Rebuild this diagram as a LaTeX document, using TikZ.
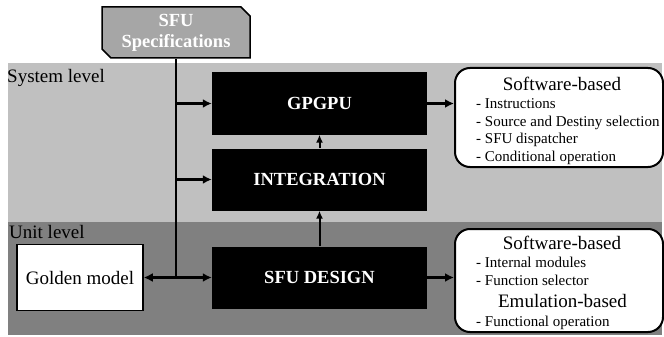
\documentclass[tikz,border=0pt]{standalone}
\usepackage{fontspec}
\setmainfont{LiberationSerif}[Extension=.ttf, UprightFont=*-Regular, BoldFont=*-Bold]
\usetikzlibrary{arrows.meta,shapes.misc}
\definecolor{syscol}{RGB}{192,192,192}
\definecolor{unitcol}{RGB}{128,128,128}
\definecolor{speccol}{RGB}{166,166,166}
\tikzset{
  blk/.style={fill=black, text=white, inner sep=0pt, minimum width=215pt, minimum height=62pt, font=\fontsize{18.5}{20}\selectfont\bfseries},
  spec/.style={chamfered rectangle, chamfered rectangle corners={north east,south west}, chamfered rectangle xsep=6pt, draw, line width=1.5pt, fill=speccol, text=white, inner sep=0pt, minimum width=148pt, minimum height=51pt, align=center, font=\fontsize{18.5}{21}\selectfont\bfseries},
  gold/.style={draw, line width=1.5pt, fill=white, inner sep=0pt, minimum width=126pt, minimum height=66pt, font=\fontsize{19}{21}\selectfont},
  note/.style={draw, line width=2pt, fill=white, rounded corners=15pt, inner sep=0pt},
  lvl/.style={inner sep=0pt, font=\fontsize{19}{21}\selectfont},
  title/.style={inner sep=0pt, anchor=base, font=\fontsize{19}{21}\selectfont},
  item/.style={inner sep=0pt, anchor=base west, font=\fontsize{15}{17}\selectfont},
  trunk/.style={line width=2.7pt},
  flow/.style={line width=2.7pt, -{Latex[length=9pt,width=9pt]}},
  vflow/.style={line width=2pt, -{Latex[length=8pt,width=7pt]}}
}
\begin{document}
\begin{tikzpicture}[x=1pt,y=-1pt]
	\useasboundingbox (0,0) rectangle (664,337);
	\clip (0,0) rectangle (664,337);
	
	% levels
	\fill[syscol] (8,63) rectangle (662,222);
	\fill[unitcol] (8,222) rectangle (662,335);
	\node[lvl, anchor=base west] (sys) at (7,82) {System level};
	\node[lvl, anchor=base west] (unit) at (9,238) {Unit level};
	
	% blocks
	\node[spec] (spec) at (176,32.5) {SFU\\Specifications};
	\node[blk] (gpgpu) at (319.5,103.5) {GPGPU};
	\node[blk] (integ) at (319.5,179.5) {INTEGRATION};
	\node[blk] (sfud) at (319.5,277.5) {SFU DESIGN};
	\node[gold] (golden) at (80,277.5) {Golden model};
	
	\node[note, minimum width=208pt, minimum height=99pt] (swsys) at (559,117.5) {};
	\node[note, minimum width=208pt, minimum height=103pt] (swunit) at (559,280.5) {};
	
	% system level text
	\node[title] (tsys) at (562,90) {Software-based};
	\node[item] (i1) at (476,108) {- Instructions};
	\node[item] (i2) at (476,126) {- Source and Destiny selection};
	\node[item] (i3) at (476,143.5) {- SFU dispatcher};
	\node[item] (i4) at (476,161) {- Conditional operation};
	
	% unit level text
	\node[title] (tunit) at (562,249) {Software-based};
	\node[item] (u1) at (476,267) {- Internal modules};
	\node[item] (u2) at (476,285) {- Function selector};
	\node[title] (temu) at (562.5,307) {Emulation-based};
	\node[item] (u3) at (476,326) {- Functional operation};
	
	% connections
	\draw[trunk] (spec.south) -- (spec.south |- sfud.west);
	\draw[flow] (spec.south |- gpgpu.west) -- (gpgpu.west);
	\draw[flow] (spec.south |- integ.west) -- (integ.west);
	\draw[flow, {Latex[length=9pt,width=9pt]}-{Latex[length=9pt,width=9pt]}] (golden.east) -- (sfud.west);
	\draw[vflow] (integ.north) -- (gpgpu.south);
	\draw[vflow] (sfud.north) -- (integ.south);
	\draw[flow] (gpgpu.east) -- (gpgpu.east -| swsys.west);
	\draw[flow] (sfud.east) -- (sfud.east -| swunit.west);
\end{tikzpicture}
\end{document}
